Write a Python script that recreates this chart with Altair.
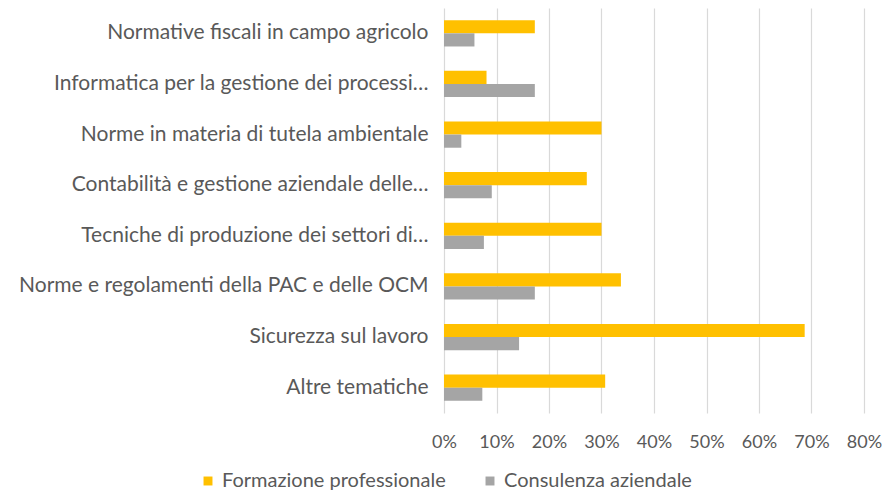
import altair as alt
import pandas as pd

categories = [
    "Normative fiscali in campo agricolo",
    "Informatica per la gestione dei processi…",
    "Norme in materia di tutela ambientale",
    "Contabilità e gestione aziendale delle…",
    "Tecniche di produzione dei settori di…",
    "Norme e regolamenti della PAC e delle OCM",
    "Sicurezza sul lavoro",
    "Altre tematiche",
]
series = ["Formazione professionale", "Consulenza aziendale"]
formazione = [0.173, 0.081, 0.300, 0.272, 0.300, 0.337, 0.687, 0.307]
consulenza = [0.058, 0.173, 0.033, 0.091, 0.076, 0.173, 0.143, 0.073]
colors = ["#FFC000", "#A5A5A5"]

rows = []
for c, f, k in zip(categories, formazione, consulenza):
    rows.append({"Categoria": c, "Serie": series[0], "Valore": f})
    rows.append({"Categoria": c, "Serie": series[1], "Valore": k})
df = pd.DataFrame(rows)

FONT = "Lato"
TXT = "#595959"

chart = alt.Chart(df).mark_bar().encode(
    y=alt.Y("Categoria:N", sort=categories, title=None,
            scale=alt.Scale(paddingInner=0.48, paddingOuter=0.24),
            axis=alt.Axis(domain=False, ticks=False, labelPadding=16,
                          labelFontSize=21, labelColor=TXT, labelFont=FONT,
                          labelLimit=500)),
    yOffset=alt.YOffset("Serie:N", sort=series),
    x=alt.X("Valore:Q", title=None,
            scale=alt.Scale(domain=[0, 0.8], nice=False),
            axis=alt.Axis(format=".0%", values=[0, 0.1, 0.2, 0.3, 0.4, 0.5, 0.6, 0.7, 0.8],
                          domain=False, ticks=False, labelPadding=20, labelFlush=False,
                          labelFontSize=18, labelColor=TXT, labelFont=FONT,
                          gridColor="#D9D9D9", gridWidth=1.2)),
    color=alt.Color("Serie:N", sort=series,
                    scale=alt.Scale(domain=series, range=colors),
                    legend=alt.Legend(title=None, orient="none", direction="horizontal",
                                      legendX=-246, legendY=463,
                                      symbolType="square", symbolSize=80,
                                      symbolStrokeWidth=0, labelOffset=4,
                                      labelFontSize=20, labelColor=TXT, labelFont=FONT,
                                      columnPadding=34, labelLimit=500)),
).properties(
    width=420, height=405,
    autosize=alt.AutoSizeParams(type="none"),
    padding={"left": 436, "top": 0, "right": 18, "bottom": 80},
).configure_view(stroke=None)

chart.save("out.html", embed_options={"renderer": "svg", "actions": False})
